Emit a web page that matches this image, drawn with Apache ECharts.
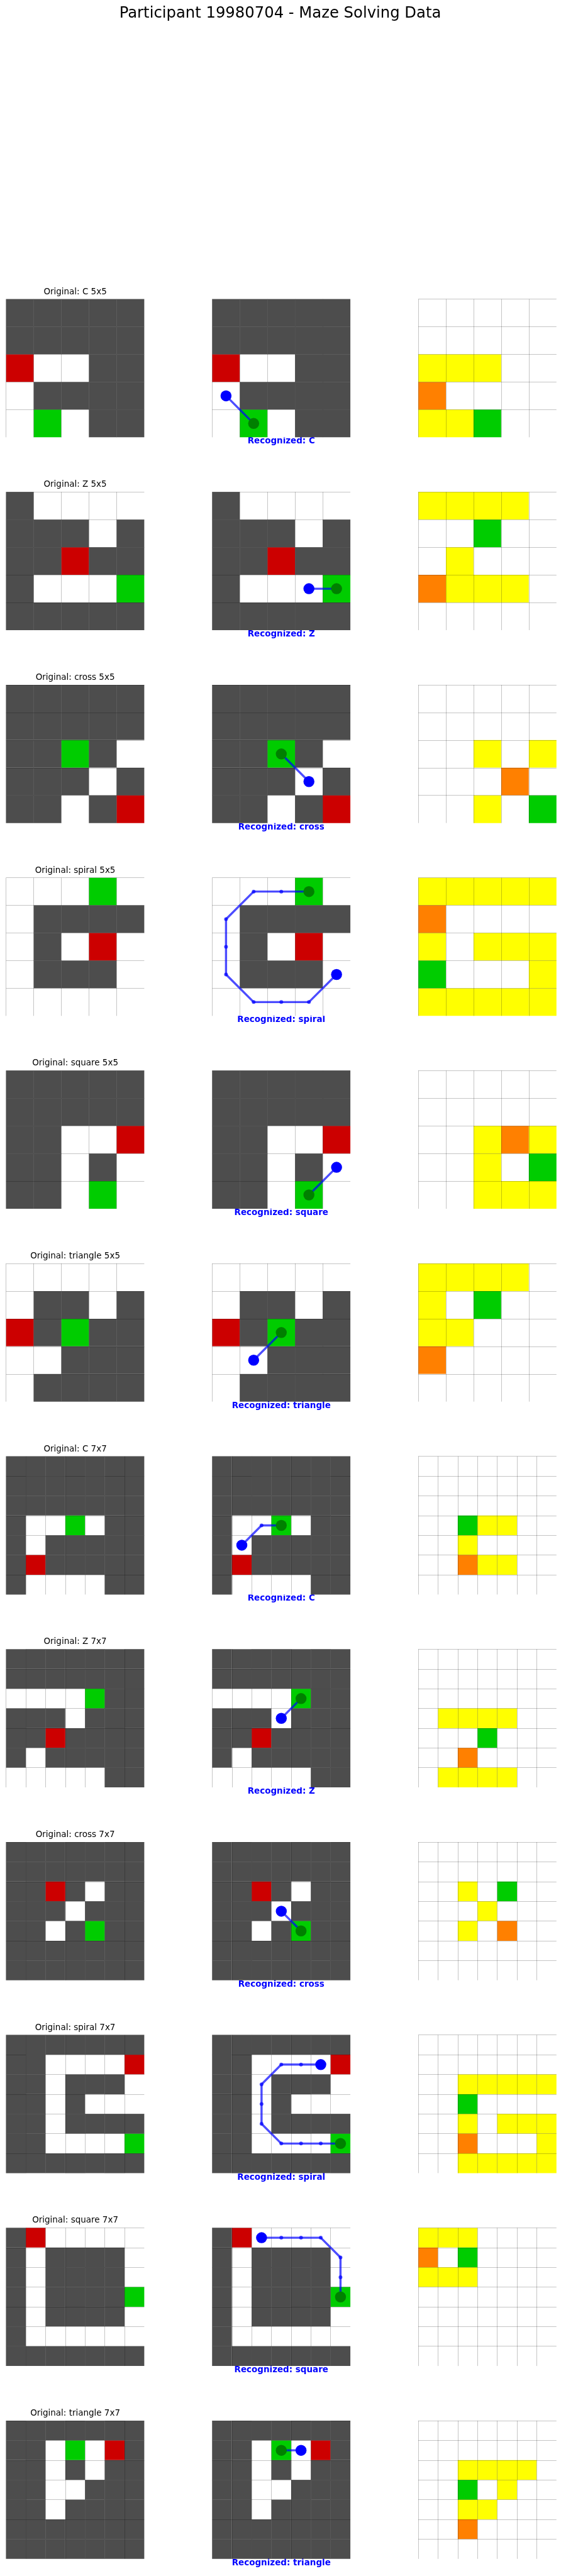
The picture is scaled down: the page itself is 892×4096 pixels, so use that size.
<!DOCTYPE html>
<html><head><meta charset="utf-8">
<script src="https://cdn.jsdelivr.net/npm/echarts@6/dist/echarts.min.js"></script>
<style>html,body{margin:0;padding:0;background:#fff}#chart{width:892px;height:4096px}</style>
</head><body><div id="chart"></div>
<script>
// ---- data ----
const mainTitle = 'Participant 19980704 - Maze Solving Data';
const shapeNames = ['C','Z','cross','spiral','square','triangle','C','Z','cross','spiral','square','triangle'];
const gridSizes = [5,5,5,5,5,5,7,7,7,7,7,7];
const recognizedShapes = ['C','Z','cross','spiral','square','triangle','C','Z','cross','spiral','square','triangle'];
// '#' wall, '.' open, 'S' red start cell, 'E' green goal cell
const mazes = [
  ['#####','#####','S..##','.####','.E.##'],
  ['#....','###.#','##S##','#...E','#####'],
  ['#####','#####','##E#.','###.#','##.#S'],
  ['...E.','.####','.#.S.','.###.','.....'],
  ['#####','#####','##..S','##.#.','##.E.'],
  ['.....','.##.#','S#E##','..###','.####'],
  ['#######','#######','#######','#..E.##','#.#####','#S#####','#....##'],
  ['#######','#######','....E##','###.###','##S####','#.#####','.....##'],
  ['#######','#######','##S#.##','###.###','##.#E##','#######','#######'],
  ['#######','##....S','##.###.','##.#...','##.####','##....E','#######'],
  ['#S.....','#.####.','#.####.','#.####E','#.####.','#......','#######'],
  ['#######','##.E.S#','##.#.##','##..###','##.####','#######','#######']
];
// participant paths as [row, col]
const paths = [
  [[3,0],[4,1]],
  [[3,3],[3,4]],
  [[3,3],[2,2]],
  [[3,4],[4,3],[4,2],[4,1],[3,0],[2,0],[1,0],[0,1],[0,2],[0,3]],
  [[3,4],[4,3]],
  [[3,1],[2,2]],
  [[4,1],[3,2],[3,3]],
  [[3,3],[2,4]],
  [[3,3],[4,4]],
  [[1,5],[1,4],[1,3],[2,2],[3,2],[4,2],[5,3],[5,4],[5,5],[5,6]],
  [[0,2],[0,3],[0,4],[0,5],[1,6],[2,6],[3,6]],
  [[1,4],[1,3]]
];
// 'Y' yellow, 'O' orange, 'G' green, '.' empty
const visitMaps = [
  ['.....','.....','YYY..','O....','YYG..'],
  ['YYYY.','..G..','.Y...','OYYY.','.....'],
  ['.....','.....','..Y.Y','...O.','..Y.G'],
  ['YYYYY','O....','Y.YYY','G...Y','YYYYY'],
  ['.....','.....','..YOY','..Y.G','..YYY'],
  ['YYYY.','Y.G..','YY...','O....','.....'],
  ['.......','.......','.......','..GYY..','..Y....','..OYY..','.......'],
  ['.......','.......','.......','.YYYY..','...G...','..O....','.YYYY..'],
  ['.......','.......','..Y.G..','...Y...','..Y.O..','.......','.......'],
  ['.......','.......','..YYYYY','..G....','..Y.YYY','..O...Y','..YYYYY'],
  ['YYY....','O.G....','YYY....','.......','.......','.......','.......'],
  ['.......','.......','..YYYY.','..G.Y..','..YY...','..O....','.......']
];

// ---- styling / layout ----
const S = 0.648;
const mazeColors = {'#':'#4d4d4d','.':'#ffffff','S':'#cc0000','E':'#00cc00'};
const visitColors = {'Y':'#ffff00','O':'#ff8000','G':'#00cc00','.':'#ffffff'};
const panelLeft = [15*S, 520.7*S, 1026.4*S];
const panelSize = 339*S;
const rowTop0 = 734*S, rowStep = 473.27*S;
const FONT = '"DejaVu Sans", sans-serif';

const grids = [], xAxes = [], yAxes = [], series = [], graphics = [];

function cellData(rows, colorMap) {
  const d = [];
  rows.forEach((line, r) => {
    for (let c = 0; c < line.length; c++) d.push([c, r, colorMap[line[c]]]);
  });
  return d;
}
function cellSeries(g, rows, colorMap) {
  const data = cellData(rows, colorMap);
  return {
    type: 'custom', xAxisIndex: g, yAxisIndex: g, z: 2, silent: true, animation: false,
    data: data.map(d => [d[0], d[1]]),
    renderItem: (params, api) => {
      const c = api.value(0), r = api.value(1);
      const p0 = api.coord([c, r]), p1 = api.coord([c + 1, r + 1]);
      return {
        type: 'rect',
        shape: {x: Math.min(p0[0], p1[0]), y: Math.min(p0[1], p1[1]),
                width: Math.abs(p1[0] - p0[0]), height: Math.abs(p1[1] - p0[1])},
        style: {fill: data[params.dataIndex][2]}
      };
    }
  };
}
function axis(g, n, inverse) {
  return {
    gridIndex: g, type: 'value', min: 0, max: n, interval: 1, inverse: inverse, z: 5,
    axisLabel: {show: false}, axisTick: {show: false}, axisLine: {show: false},
    splitLine: {show: true, showMinLine: true, showMaxLine: false,
                lineStyle: {color: 'rgba(0,0,0,0.33)', width: 0.7}}
  };
}

graphics.push({type: 'text', x: 687.5*S, y: 33*S, style: {text: mainTitle, font: `${37.5*S}px ${FONT}`, fill: '#000', textAlign: 'center', textVerticalAlign: 'middle'}});

for (let i = 0; i < 12; i++) {
  const n = gridSizes[i];
  const top = rowTop0 + rowStep * i;
  for (let p = 0; p < 3; p++) {
    const g = i * 3 + p;
    grids.push({left: panelLeft[p], top: top, width: panelSize, height: panelSize});
    xAxes.push(axis(g, n, false));
    yAxes.push(axis(g, n, true));
    if (p < 2) series.push(cellSeries(g, mazes[i], mazeColors));
    else series.push(cellSeries(g, visitMaps[i], visitColors));
  }
  const g2 = i * 3 + 1;
  const pts = paths[i].map(rc => [rc[1] + 0.5, rc[0] + 0.5]);
  series.push({
    type: 'line', xAxisIndex: g2, yAxisIndex: g2, z: 10, silent: true, animation: false,
    data: pts, symbol: 'circle', symbolSize: 6, showSymbol: true, showAllSymbol: true,
    itemStyle: {color: '#0000ff', opacity: 0.7},
    lineStyle: {color: '#0000ff', width: 3.4, opacity: 0.7}
  });
  series.push({
    type: 'scatter', xAxisIndex: g2, yAxisIndex: g2, z: 11, silent: true, animation: false,
    data: [pts[0]], symbol: 'circle', symbolSize: 17.5, itemStyle: {color: '#0000ff', opacity: 1}
  });
  series.push({
    type: 'scatter', xAxisIndex: g2, yAxisIndex: g2, z: 11, silent: true, animation: false,
    data: [pts[pts.length - 1]], symbol: 'circle', symbolSize: 17.5, itemStyle: {color: '#008000', opacity: 1}
  });
  graphics.push({type: 'text', x: panelLeft[0] + panelSize / 2, y: top - 11.6,
    style: {text: `Original: ${shapeNames[i]} ${n}x${n}`, font: `${20.8*S}px ${FONT}`, fill: '#000', textAlign: 'center', textVerticalAlign: 'middle'}});
  graphics.push({type: 'text', x: panelLeft[1] + panelSize / 2, y: top + panelSize + 6.6,
    style: {text: `Recognized: ${recognizedShapes[i]}`, font: `bold ${20.8*S}px ${FONT}`, fill: '#0000ff', textAlign: 'center', textVerticalAlign: 'middle'}});
}

const chart = echarts.init(document.getElementById('chart'), null, {renderer: 'canvas'});
chart.setOption({
  animation: false,
  backgroundColor: '#ffffff',
  grid: grids, xAxis: xAxes, yAxis: yAxes, series: series,
  graphic: graphics
});
</script></body></html>
